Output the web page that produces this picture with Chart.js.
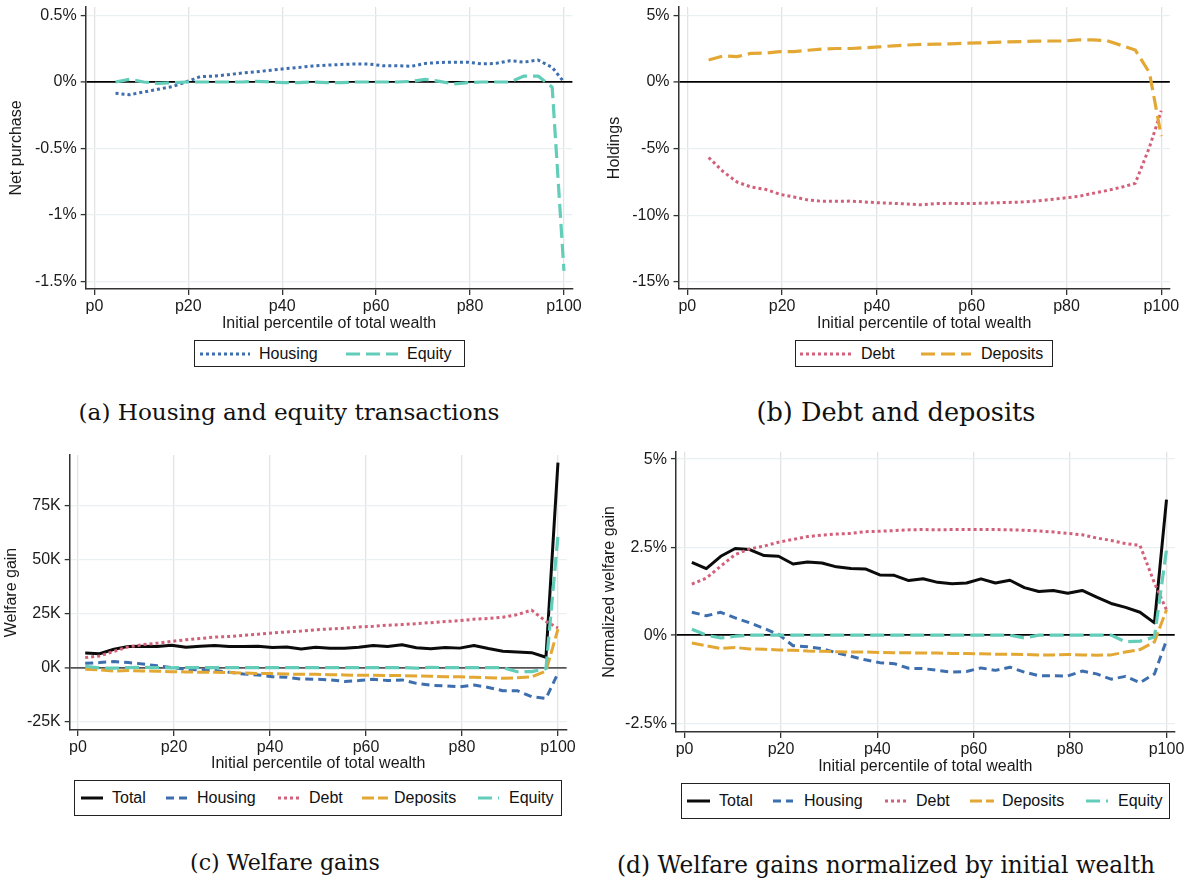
<!DOCTYPE html>
<html>
<head>
<meta charset="utf-8">
<script src="https://cdn.jsdelivr.net/npm/chart.js@4.4.1/dist/chart.umd.min.js"></script>
<style>
  html, body { margin: 0; padding: 0; background: #fff; }
  body { width: 1188px; height: 883px; position: relative; overflow: hidden; font-family: "Liberation Sans", Arial, sans-serif; }
  canvas { position: absolute; }
  .legend { position: absolute; border: 1.5px solid #222; box-sizing: border-box; background: #fff; }
  .lsample { position: absolute; }
  .ltext { position: absolute; font-size: 16px; color: #111; white-space: nowrap; line-height: 1; }
  .cap { position: absolute; font-family: "DejaVu Serif", serif; color: #111; white-space: nowrap; line-height: 1; }
</style>
</head>
<body>
<canvas id="cA" width="594" height="333" style="left:0px;top:0px;width:594px;height:333px"></canvas>
<canvas id="cB" width="594" height="333" style="left:594px;top:0px;width:594px;height:333px"></canvas>
<canvas id="cC" width="594" height="333" style="left:0px;top:440px;width:594px;height:333px"></canvas>
<canvas id="cD" width="594" height="336" style="left:594px;top:440px;width:594px;height:336px"></canvas>

<script>
// ---------------- DATA ----------------
const xTicks = [0, 20, 40, 60, 80, 100];
const xTickLabels = ['p0', 'p20', 'p40', 'p60', 'p80', 'p100'];

// panels (a) and (b): percentile bins
const xAB = [4.5,7.5,10.5,13.5,16.5,19.5,22.5,25.5,28.5,31.5,34.5,37.5,40.5,43.5,46.5,49.5,52.5,55.5,58.5,61.5,64.5,67.5,70.5,73.5,76.5,79.5,82.5,85.5,88.5,91.5,94.5,97.5,100];

// (a) Net purchase, %
const housingA = [-0.085,-0.095,-0.075,-0.055,-0.035,0.0,0.04,0.045,0.055,0.068,0.077,0.088,0.1,0.11,0.12,0.127,0.132,0.136,0.135,0.122,0.123,0.118,0.14,0.147,0.149,0.149,0.136,0.14,0.16,0.15,0.165,0.11,0.0];
const equityA  = [0.0,0.02,0.0,-0.01,-0.005,0.0,0.0,0.0,0.0,0.0,0.005,0.0,-0.005,-0.005,0.0,-0.005,-0.005,0.0,0.0,0.0,0.0,0.005,0.02,0.005,-0.015,-0.005,0.0,0.0,0.0,0.045,0.045,-0.04,-1.42];
const yTicksA = [0.5, 0, -0.5, -1, -1.5];
const yLabelsA = ['0.5%', '0%', '-0.5%', '-1%', '-1.5%'];

// (b) Holdings, %
const debtB     = [-5.66,-6.7,-7.5,-7.88,-8.05,-8.42,-8.62,-8.85,-8.95,-8.95,-8.93,-9.0,-9.06,-9.1,-9.15,-9.21,-9.12,-9.1,-9.11,-9.1,-9.06,-9.03,-9.0,-8.93,-8.82,-8.7,-8.58,-8.35,-8.14,-7.9,-7.6,-4.9,-2.16];
const depositsB = [1.65,1.95,1.9,2.15,2.16,2.27,2.28,2.38,2.47,2.51,2.51,2.57,2.63,2.71,2.77,2.82,2.83,2.86,2.9,2.93,2.97,3.0,3.03,3.06,3.07,3.07,3.16,3.15,3.1,2.75,2.4,0.7,-4.06];
const yTicksB = [5, 0, -5, -10, -15];
const yLabelsB = ['5%', '0%', '-5%', '-10%', '-15%'];

// panels (c) and (d)
const xCD = [1.5,4.5,7.5,10.5,13.5,16.5,19.5,22.5,25.5,28.5,31.5,34.5,37.5,40.5,43.5,46.5,49.5,52.5,55.5,58.5,61.5,64.5,67.5,70.5,73.5,76.5,79.5,82.5,85.5,88.5,91.5,94.5,97.5,100];

// (c) Welfare gain, thousands
const totalC    = [6.7,6.4,8.5,9.8,9.9,9.7,10.3,9.4,9.9,10.2,9.8,9.8,9.9,9.3,9.5,8.6,9.4,8.9,8.9,9.4,10.2,9.8,10.6,9.2,8.7,9.3,9.0,10.2,8.8,7.6,7.2,6.9,4.8,94.9];
const housingC  = [2.0,2.3,2.8,2.3,1.7,0.8,0.0,-0.8,-1.1,-1.4,-2.2,-3.0,-3.4,-4.2,-4.5,-5.3,-5.4,-5.7,-6.4,-6.0,-5.4,-6.0,-5.7,-7.3,-8.2,-8.5,-8.9,-8.1,-9.2,-10.7,-10.7,-13.5,-14.3,-2.6];
const debtC     = [4.6,5.4,7.5,9.6,10.6,11.3,12.1,12.9,13.5,14.1,14.4,14.9,15.4,16.0,16.5,16.9,17.5,17.9,18.2,18.8,19.1,19.6,19.9,20.3,20.8,21.3,21.7,22.4,22.7,23.3,24.5,26.6,21.4,18.3];
const depositsC = [-0.8,-1.1,-1.6,-1.4,-1.6,-1.7,-1.9,-2.0,-2.2,-2.2,-2.3,-2.5,-2.8,-2.8,-3.0,-3.1,-3.1,-3.3,-3.4,-3.6,-3.6,-3.7,-3.7,-3.9,-4.0,-4.2,-4.3,-4.5,-4.7,-5.0,-4.7,-4.3,-1.6,17.8];
const equityC   = [0.6,-0.2,-0.3,0.0,0.1,0.0,-0.1,0.0,0.0,0.0,0.0,0.0,0.0,0.0,0.0,0.0,0.0,0.0,0.0,0.0,0.0,0.0,0.0,-0.3,0.1,0.0,0.0,0.0,0.0,0.0,-1.9,-1.9,-0.5,61.0];
const yTicksC = [75, 50, 25, 0, -25];
const yLabelsC = ['75K', '50K', '25K', '0K', '-25K'];

// (d) Normalized welfare gain, %
const totalD    = [2.07,1.89,2.24,2.46,2.43,2.26,2.24,2.02,2.08,2.05,1.94,1.89,1.88,1.71,1.70,1.55,1.6,1.5,1.46,1.48,1.6,1.48,1.56,1.35,1.24,1.27,1.19,1.27,1.08,0.9,0.79,0.65,0.35,3.85];
const housingD  = [0.65,0.55,0.65,0.49,0.35,0.19,0.02,-0.3,-0.33,-0.38,-0.5,-0.6,-0.7,-0.78,-0.81,-0.94,-0.95,-1.0,-1.05,-1.03,-0.93,-1.0,-0.91,-1.05,-1.15,-1.15,-1.16,-1.02,-1.1,-1.25,-1.17,-1.35,-1.1,-0.14];
const debtD     = [1.45,1.62,1.96,2.29,2.45,2.53,2.64,2.72,2.8,2.84,2.87,2.89,2.94,2.95,2.97,2.99,3.0,2.99,3.0,3.0,3.0,3.0,2.99,2.98,2.96,2.93,2.89,2.85,2.76,2.69,2.6,2.55,1.48,0.72];
const depositsD = [-0.22,-0.3,-0.38,-0.35,-0.39,-0.4,-0.42,-0.43,-0.45,-0.46,-0.47,-0.48,-0.48,-0.49,-0.5,-0.5,-0.51,-0.51,-0.52,-0.52,-0.53,-0.54,-0.54,-0.55,-0.56,-0.56,-0.55,-0.56,-0.57,-0.56,-0.48,-0.41,-0.19,0.72];
const equityD   = [0.17,0.0,-0.08,-0.03,0,0,0,0,0,0,0,0,0,0,0,0,0,0,0,0,0,0,0,-0.08,0,0,0,0,0,0,-0.19,-0.17,-0.05,2.43];
const yTicksD = [5, 2.5, 0, -2.5];
const yLabelsD = ['5%', '2.5%', '0%', '-2.5%'];

// ---------------- STYLES ----------------
const C_BLUE = '#3d6eae', C_RED = '#d3607a', C_GOLD = '#e3a834', C_TEAL = '#62cdb8', C_BLACK = '#0b0b0b';
const ST = {
  total:    { color: C_BLACK, width: 3,   dash: [] },
  housingS: { color: C_BLUE,  width: 3,   dash: [3, 3] },
  housingD: { color: C_BLUE,  width: 3,   dash: [8, 5] },
  debt:     { color: C_RED,   width: 3,   dash: [3, 3] },
  depositsL:{ color: C_GOLD,  width: 3.2, dash: [14, 6] },
  depositsD:{ color: C_GOLD,  width: 3,   dash: [12, 4] },
  equityL:  { color: C_TEAL,  width: 3.2, dash: [14, 6] },
};

const FONT = '"Liberation Sans", Arial, sans-serif';
Chart.defaults.font.family = FONT;
Chart.defaults.font.size = 16;
Chart.defaults.color = '#1a1a1a';

function buildChart(id, o) {
  const datasets = o.series.map(s => ({
    label: s.label,
    data: o.xs.map((x, i) => ({ x: x, y: s.values[i] })),
    borderColor: s.style.color,
    borderWidth: s.style.width,
    borderDash: s.style.dash,
    order: s.order,
    pointRadius: 0,
    fill: false,
    tension: 0,
    borderCapStyle: 'butt',
    borderJoinStyle: 'round'
  }));
  return new Chart(document.getElementById(id), {
    type: 'line',
    data: { datasets },
    options: {
      responsive: false,
      animation: false,
      devicePixelRatio: 1,
      layout: { padding: { left: o.padL, top: o.padT, right: o.padR, bottom: 0 } },
      plugins: { legend: { display: false }, tooltip: { enabled: false } },
      scales: {
        x: {
          type: 'linear', min: o.xMin, max: o.xMax,
          afterBuildTicks: s => { s.ticks = xTicks.map(v => ({ value: v })); },
          ticks: {
            autoSkip: false, maxRotation: 0, padding: 2, color: '#1a1a1a',
            font: { size: 16 },
            callback: v => { const i = xTicks.indexOf(v); return i >= 0 ? xTickLabels[i] : ''; }
          },
          grid: { color: '#e3e3e3', lineWidth: 1.3, tickColor: '#333', tickLength: 6 },
          border: { color: '#333', width: 1.5 },
          title: { display: true, text: 'Initial percentile of total wealth', font: { size: 16 }, color: '#1a1a1a', padding: 0 },
          afterFit: s => { s.height = o.xH; s.paddingLeft = 0; s.paddingRight = 0; }
        },
        y: {
          type: 'linear', min: o.yMin, max: o.yMax,
          afterBuildTicks: s => { s.ticks = o.yTicks.map(v => ({ value: v })); },
          ticks: {
            autoSkip: false, padding: 4, color: '#1a1a1a', font: { size: 16 },
            callback: v => { const i = o.yTicks.indexOf(v); return i >= 0 ? o.yLabels[i] : ''; }
          },
          grid: {
            color: c => (c.tick && c.tick.value === 0) ? o.zeroColor : '#e8f0f1',
            lineWidth: c => (c.tick && c.tick.value === 0) ? 1.8 : 1.2,
            tickColor: '#333', tickLength: 5, tickWidth: 1.3
          },
          border: { color: '#333', width: 1.5 },
          title: { display: true, text: o.yTitle, font: { size: 16 }, color: '#1a1a1a', padding: 0 },
          afterFit: s => { s.width = o.yW; s.paddingTop = 0; s.paddingBottom = 0; }
        }
      }
    }
  });
}

buildChart('cA', {
  xs: xAB, xMin: -1.85, xMax: 101.8, yMin: -1.556, yMax: 0.564,
  yTicks: yTicksA, yLabels: yLabelsA, yTitle: 'Net purchase', zeroColor: '#000',
  padL: 7.4, padT: 7, padR: 21.6, yW: 78.3, xH: 44,
  series: [
    { label: 'Housing', values: housingA, style: ST.housingS, order: 2 },
    { label: 'Equity', values: equityA, style: ST.equityL, order: 1 }
  ]
});
buildChart('cB', {
  xs: xAB, xMin: -1.86, xMax: 101.8, yMin: -15.52, yMax: 5.62,
  yTicks: yTicksB, yLabels: yLabelsB, yTitle: 'Holdings', zeroColor: '#000',
  padL: 11.4, padT: 7, padR: 18.2, yW: 73.1, xH: 44,
  series: [
    { label: 'Debt', values: debtB, style: ST.debt, order: 2 },
    { label: 'Deposits', values: depositsB, style: ST.depositsL, order: 1 }
  ]
});
buildChart('cC', {
  xs: xCD, xMin: -1.73, xMax: 101.8, yMin: -28.9, yMax: 98.4,
  yTicks: yTicksC, yLabels: yLabelsC, yTitle: 'Welfare gain', zeroColor: '#555',
  padL: 1.8, padT: 15, padR: 27.4, yW: 67.9, xH: 43,
  series: [
    { label: 'Total', values: totalC, style: ST.total, order: 5 },
    { label: 'Housing', values: housingC, style: ST.housingD, order: 4 },
    { label: 'Debt', values: debtC, style: ST.debt, order: 3 },
    { label: 'Deposits', values: depositsC, style: ST.depositsD, order: 2 },
    { label: 'Equity', values: equityC, style: ST.equityL, order: 1 }
  ]
});
buildChart('cD', {
  xs: xCD, xMin: -1.81, xMax: 101.7, yMin: -2.75, yMax: 5.21,
  yTicks: yTicksD, yLabels: yLabelsD, yTitle: 'Normalized welfare gain', zeroColor: '#000',
  padL: 5.6, padT: 11.7, padR: 13.3, yW: 76.3, xH: 44,
  series: [
    { label: 'Total', values: totalD, style: ST.total, order: 5 },
    { label: 'Housing', values: housingD, style: ST.housingD, order: 4 },
    { label: 'Debt', values: debtD, style: ST.debt, order: 3 },
    { label: 'Deposits', values: depositsD, style: ST.depositsD, order: 2 },
    { label: 'Equity', values: equityD, style: ST.equityL, order: 1 }
  ]
});

// ---------------- LEGENDS ----------------
function legend(box, items) {
  const b = document.createElement('div');
  b.className = 'legend';
  Object.assign(b.style, { left: box.l + 'px', top: box.t + 'px', width: box.w + 'px', height: box.h + 'px' });
  document.body.appendChild(b);
  const cy = box.t + box.h / 2;
  items.forEach(it => {
    const ns = 'http://www.w3.org/2000/svg';
    const svg = document.createElementNS(ns, 'svg');
    svg.setAttribute('width', it.sw); svg.setAttribute('height', 8);
    svg.setAttribute('class', 'lsample');
    svg.style.left = it.sx + 'px'; svg.style.top = (cy - 4) + 'px';
    const ln = document.createElementNS(ns, 'line');
    ln.setAttribute('x1', 0); ln.setAttribute('x2', it.sw);
    ln.setAttribute('y1', 4); ln.setAttribute('y2', 4);
    ln.setAttribute('stroke', it.style.color);
    ln.setAttribute('stroke-width', it.style.width);
    if (it.style.dash.length) ln.setAttribute('stroke-dasharray', it.style.dash.join(' '));
    svg.appendChild(ln);
    document.body.appendChild(svg);
    const t = document.createElement('div');
    t.className = 'ltext'; t.textContent = it.label;
    t.style.left = it.tx + 'px'; t.style.top = (cy - 8) + 'px';
    document.body.appendChild(t);
  });
}
legend({ l: 194, t: 340, w: 271, h: 27 }, [
  { label: 'Housing', style: ST.housingS, sx: 200, sw: 50, tx: 259 },
  { label: 'Equity', style: ST.equityL, sx: 346, sw: 52, tx: 407 }
]);
legend({ l: 795, t: 340, w: 258, h: 27 }, [
  { label: 'Debt', style: ST.debt, sx: 800, sw: 51, tx: 861 },
  { label: 'Deposits', style: ST.depositsL, sx: 921, sw: 50, tx: 981 }
]);
legend({ l: 74, t: 780, w: 488, h: 36 }, [
  { label: 'Total', style: ST.total, sx: 81, sw: 22, tx: 112 },
  { label: 'Housing', style: ST.housingD, sx: 166, sw: 21, tx: 197 },
  { label: 'Debt', style: ST.debt, sx: 278, sw: 21, tx: 309 },
  { label: 'Deposits', style: ST.depositsD, sx: 362, sw: 26, tx: 394 },
  { label: 'Equity', style: ST.equityL, sx: 478, sw: 21, tx: 509 }
]);
legend({ l: 681, t: 783, w: 489, h: 36 }, [
  { label: 'Total', style: ST.total, sx: 687, sw: 23, tx: 719 },
  { label: 'Housing', style: ST.housingD, sx: 773, sw: 20, tx: 804 },
  { label: 'Debt', style: ST.debt, sx: 885, sw: 22, tx: 916 },
  { label: 'Deposits', style: ST.depositsD, sx: 970, sw: 24, tx: 1002 },
  { label: 'Equity', style: ST.equityL, sx: 1086, sw: 22, tx: 1118 }
]);

// ---------------- CAPTIONS ----------------
function caption(text, cx, cy, targetW) {
  const d = document.createElement('div');
  d.className = 'cap'; d.textContent = text;
  d.style.fontSize = '23px';
  document.body.appendChild(d);
  const w0 = d.getBoundingClientRect().width;
  const fs = 23 * targetW / w0;
  d.style.fontSize = fs.toFixed(2) + 'px';
  const r = d.getBoundingClientRect();
  d.style.left = (cx - r.width / 2) + 'px';
  d.style.top = (cy - r.height / 2) + 'px';
}
caption('(a) Housing and equity transactions', 289, 413, 421);
caption('(b) Debt and deposits', 896, 413, 279);
caption('(c) Welfare gains', 285, 862, 190);
caption('(d) Welfare gains normalized by initial wealth', 886, 865, 538);
</script>
</body>
</html>
